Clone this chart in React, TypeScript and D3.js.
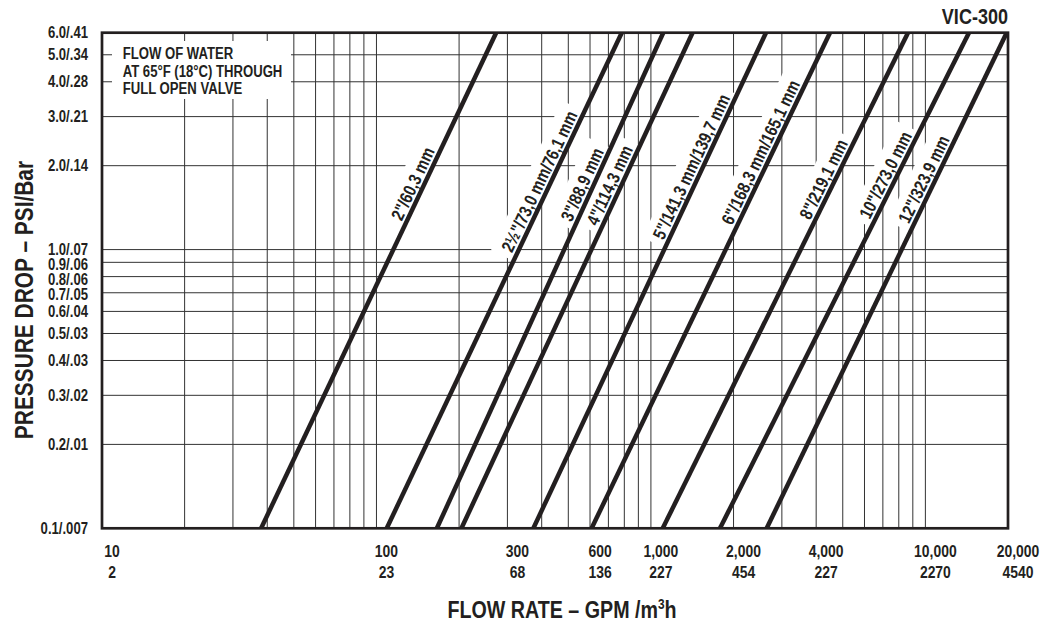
import * as d3 from 'd3';
import React, { useRef, useEffect } from 'react';

// pipe sizes, flow (GPM) where each line crosses 0.1 psi and 6.0 psi
const pipeSizes = ['2"/60,3 mm', '2½"/73,0 mm/76,1 mm', '3"/88,9 mm', '4"/114,3 mm', '5"/141,3 mm/139,7 mm', '6"/168,3 mm/165,1 mm', '8"/219,1 mm', '10"/273,0 mm', '12"/323,9 mm'];
const flowAtLow = [38, 109, 166, 204, 373, 608, 1104, 1785, 2641];
const flowAtHigh = [273, 783, 1109, 1418, 2626, 4492, 8644, 14416, 19780];
const labelPsi = [1.66, 1.69, 1.65, 1.64, 1.91, 2.15, 1.72, 1.78, 1.72];

const psiTicks = [6, 5, 4, 3, 2, 1, 0.9, 0.8, 0.7, 0.6, 0.5, 0.4, 0.3, 0.2, 0.1];
const psiLabels = ['6.0/.41', '5.0/.34', '4.0/.28', '3.0/.21', '2.0/.14', '1.0/.07', '0.9/.06', '0.8/.06', '0.7/.05', '0.6/.04', '0.5/.03', '0.4/.03', '0.3/.02', '0.2/.01', '0.1/.007'];
const gpmTicks = [10, 100, 300, 600, 1000, 2000, 4000, 10000, 20000];
const gpmLabels = ['10', '100', '300', '600', '1,000', '2,000', '4,000', '10,000', '20,000'];
const m3hLabels = ['2', '23', '68', '136', '227', '454', '227', '2270', '4540'];
const noteLines = ['FLOW OF WATER', 'AT 65°F (18°C) THROUGH', 'FULL OPEN VALVE'];

// no narrow face installed, so squeeze Liberation Sans Bold
const FONT = "'Liberation Sans', Arial, sans-serif";
const SQ = 0.82;
const INK = '#231f20';
const at = (x, y, rot = 0) => `translate(${x},${y}) rotate(${rot}) scale(${SQ},1)`;

function FlowChart({ width, height }) {
    const ref = useRef();
    const left = 102, right = 1008, top = 32.7, bottom = 528.3;

    useEffect(() => {
        draw();
    }, []);

    const draw = () => {
        const svg = d3.select(ref.current);
        svg.selectAll('*').remove();
        svg.style('font-family', FONT).style('font-weight', 'bold');

        const x = d3.scaleLog().domain([10, 20000]).range([left, right]);
        const y = d3.scaleLog().domain([0.1, 6]).range([bottom, top]);

        svg.append('defs').append('clipPath').attr('id', 'plot-clip')
            .append('rect')
            .attr('x', left).attr('y', top)
            .attr('width', right - left).attr('height', bottom - top);

        // grid
        const grid = svg.append('g').attr('stroke', '#333').attr('stroke-width', 1);
        grid.selectAll('line.v')
            .data(x.ticks().filter(v => v > 10 && v <= 10000))
            .enter().append('line')
            .attr('class', 'v')
            .attr('x1', d => x(d)).attr('x2', d => x(d))
            .attr('y1', top).attr('y2', bottom);
        grid.selectAll('line.h')
            .data(y.ticks().filter(v => v > 0.1 && v < 6))
            .enter().append('line')
            .attr('class', 'h')
            .attr('x1', left).attr('x2', right)
            .attr('y1', d => y(d)).attr('y2', d => y(d));

        // note box knocks out the grid
        svg.append('rect')
            .attr('x', 112).attr('y', 41).attr('width', 179).attr('height', 58)
            .attr('fill', 'white');

        const halos = svg.append('g').attr('fill', 'white');
        const lines = svg.append('g').attr('clip-path', 'url(#plot-clip)');
        const labels = svg.append('g');

        pipeSizes.forEach((name, i) => {
            const x0 = x(flowAtLow[i]), y0 = y(0.1);
            const x1 = x(flowAtHigh[i]), y1 = y(6);
            lines.append('line')
                .attr('x1', x0).attr('y1', y0)
                .attr('x2', x1).attr('y2', y1)
                .attr('stroke', INK)
                .attr('stroke-width', 4.5);

            const len = Math.hypot(x1 - x0, y1 - y0);
            const ux = (x1 - x0) / len, uy = (y1 - y0) / len;
            const angle = Math.atan2(uy, ux) * 180 / Math.PI;
            const ly = y(labelPsi[i]);
            const t = (ly - y0) / (y1 - y0);
            const off = 11;
            const cx = x0 + t * (x1 - x0) + uy * off;
            const cy = ly - ux * off;

            const txt = labels.append('text')
                .attr('transform', at(cx, cy, angle))
                .attr('text-anchor', 'middle')
                .attr('dominant-baseline', 'central')
                .attr('font-size', 18)
                .attr('fill', INK)
                .text(name);
            const tl = txt.node().getComputedTextLength() * SQ;
            halos.append('rect')
                .attr('transform', `translate(${cx},${cy}) rotate(${angle})`)
                .attr('x', -tl / 2 - 6).attr('y', -14)
                .attr('width', tl + 12).attr('height', 26);
        });

        svg.append('g').selectAll('text')
            .data(noteLines)
            .enter().append('text')
            .attr('transform', (d, i) => at(122.7, 59.3 + i * 17.3))
            .attr('font-size', 16)
            .attr('fill', INK)
            .text(d => d);

        // frame
        svg.append('rect')
            .attr('x', left).attr('y', top)
            .attr('width', right - left).attr('height', bottom - top)
            .attr('fill', 'none')
            .attr('stroke', INK)
            .attr('stroke-width', 2.7);

        // y tick labels, nudged apart where crowded
        const ys = [];
        psiTicks.forEach((v, i) => {
            const p = y(v);
            ys.push(i > 0 ? Math.max(p, ys[i - 1] + 15) : p);
        });
        svg.append('g').selectAll('text')
            .data(psiLabels)
            .enter().append('text')
            .attr('transform', (d, i) => at(88, ys[i]))
            .attr('text-anchor', 'end')
            .attr('dominant-baseline', 'central')
            .attr('font-size', 16)
            .attr('fill', INK)
            .text(d => d);

        // x tick labels
        const xl = svg.append('g').attr('font-size', 17).attr('fill', INK).attr('text-anchor', 'middle');
        xl.selectAll('text.gpm')
            .data(gpmTicks)
            .enter().append('text')
            .attr('class', 'gpm')
            .attr('transform', d => at(x(d) + 10, 556.7))
            .text((d, i) => gpmLabels[i]);
        xl.selectAll('text.m3h')
            .data(gpmTicks)
            .enter().append('text')
            .attr('class', 'm3h')
            .attr('transform', d => at(x(d) + 10, 578))
            .text((d, i) => m3hLabels[i]);

        // titles
        const xt = svg.append('text')
            .attr('transform', at(562, 618))
            .attr('text-anchor', 'middle')
            .attr('font-size', 24)
            .attr('fill', INK);
        xt.append('tspan').text('FLOW RATE – GPM /m');
        xt.append('tspan').attr('dy', -9).attr('font-size', 14.5).text('3');
        xt.append('tspan').attr('dy', 9).text('h');

        svg.append('text')
            .attr('transform', at(33, 300, -90))
            .attr('text-anchor', 'middle')
            .attr('font-size', 25.5)
            .attr('fill', INK)
            .text('PRESSURE DROP – PSI/Bar');

        svg.append('text')
            .attr('transform', at(right, 24))
            .attr('text-anchor', 'end')
            .attr('font-size', 22)
            .attr('fill', INK)
            .text('VIC-300');
    };

    return (
        <svg ref={ref} width={width} height={height}
            style={{ position: 'absolute', left: 0, top: 0, background: 'white' }}>
        </svg>
    );
}

export default function App() {
    return <FlowChart width={1055} height={625} />;
}
